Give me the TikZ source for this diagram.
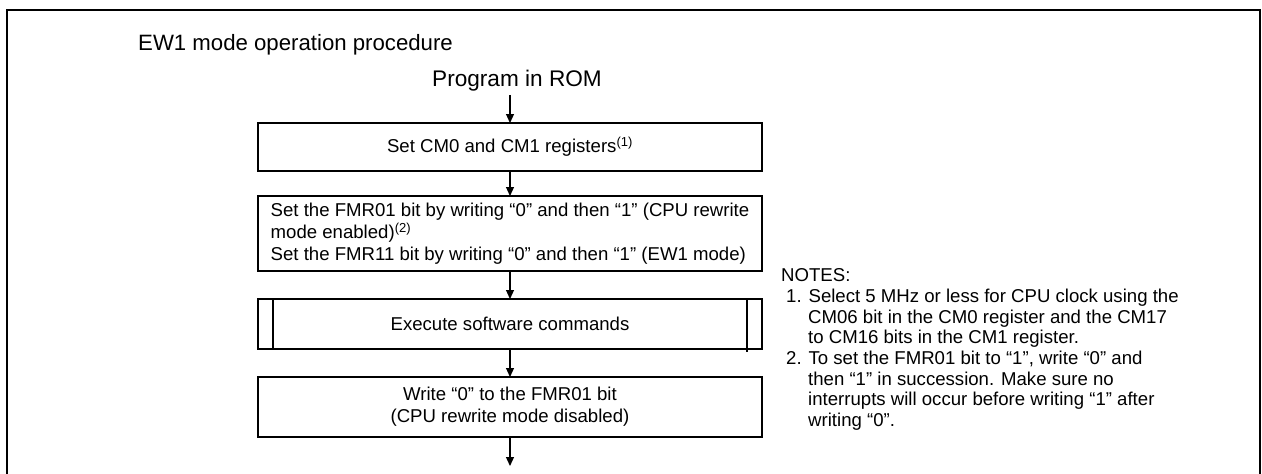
\documentclass[tikz,border=0pt]{standalone}
\usepackage{fontspec}
\setmainfont{Liberation Sans}
\usetikzlibrary{positioning, arrows.meta, calc}

\begin{document}
\begin{tikzpicture}[x=1pt, y=-1pt,
    flowbox/.style={draw, line width=1.2pt, minimum width=504pt, inner sep=0pt, outer sep=0pt,
        font=\fontsize{18.6}{21.7}\selectfont, align=center},
    flow/.style={-{Triangle[length=9pt, width=8pt]}, line width=1.2pt}]
\useasboundingbox (0,0) rectangle (1262,474);
% frame, open at the bottom
\draw[line width=2.4pt] (7,474) -- (7,10) -- (1260,10) -- (1260,474);
\node[anchor=base west, inner sep=0pt, font=\fontsize{22.2}{26}\selectfont] (title) at (138,50) {EW1 mode operation procedure};
\node[anchor=base, inner sep=0pt, font=\fontsize{22.6}{26}\selectfont] (rom) at (517,86) {Program in ROM};

\node[flowbox, minimum height=48pt] (setcm) at (510,147) {Set CM0 and CM1 registers\textsuperscript{(1)}};
\node[flowbox, minimum height=75pt, align=left] (setfmr) at (510,233.5)
    {Set the FMR01 bit by writing “0” and then “1” (CPU rewrite\\
     mode enabled)\textsuperscript{(2)}\\
     Set the FMR11 bit by writing “0” and then “1” (EW1 mode)};
\node[flowbox, minimum height=50pt] (exec) at (510,324) {Execute software commands};
\node[flowbox, minimum height=60pt] (wrzero) at (510,407) {Write “0” to the FMR01 bit\\(CPU rewrite mode disabled)};
\coordinate (out) at (510,466);

% side bars of the predefined process
\draw[line width=1.2pt] ([xshift=15pt]exec.north west) -- ([xshift=15pt]exec.south west);
\draw[line width=1.2pt] ([xshift=-15pt]exec.north east) -- ([xshift=-15pt, yshift=-3pt]exec.south east);

\draw[flow] (setcm.north |- rom.south) ++(0,4) -- (setcm.north);
\draw[flow] (setcm) -- (setfmr);
\draw[flow] (setfmr) -- (exec);
\draw[flow] (exec) -- (wrzero);
\draw[flow] (wrzero) -- (out);

\node[anchor=north west, inner sep=0pt, align=left, font=\fontsize{18.6}{20.7}\selectfont] (notes) at (781,268.5)
    {NOTES:\\
     \hspace*{5pt}1. Select 5 MHz or less for CPU clock using the\\
     \hspace*{27pt}CM06 bit in the CM0 register and the CM17\\
     \hspace*{27pt}to CM16 bits in the CM1 register.\\
     \hspace*{5pt}2. To set the FMR01 bit to “1”, write “0” and\\
     \hspace*{27pt}then “1” in succession. Make sure no\\
     \hspace*{27pt}interrupts will occur before writing “1” after\\
     \hspace*{27pt}writing “0”.};
\end{tikzpicture}
\end{document}
